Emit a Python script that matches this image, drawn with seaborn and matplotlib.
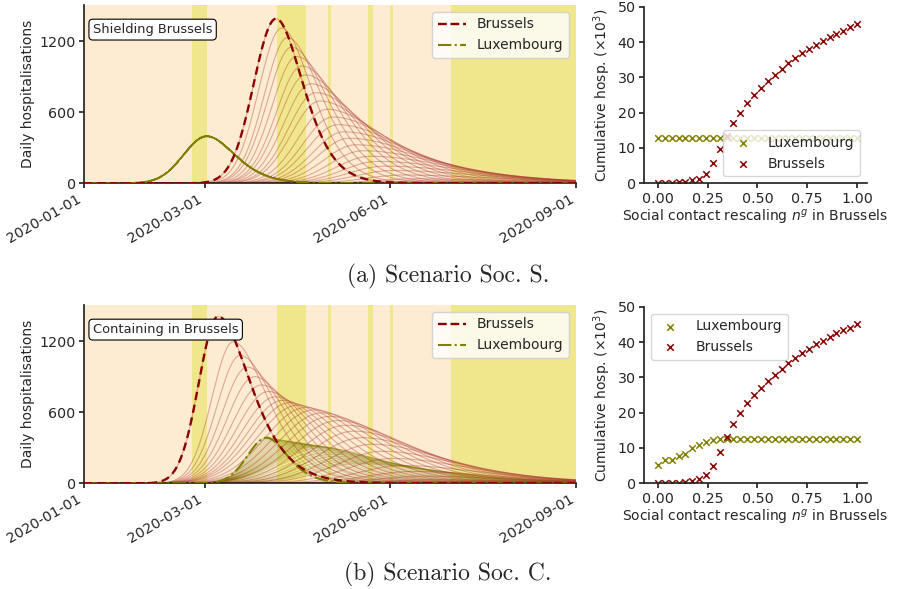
import numpy as np
import pandas as pd
import matplotlib
matplotlib.use("Agg")
import matplotlib.pyplot as plt
import matplotlib.dates as mdates
from matplotlib.lines import Line2D
import seaborn as sns

sns.set_theme(style="ticks")
plt.rcParams["font.family"] = ["DejaVu Sans"]

# ---------------- data ----------------
n_rescaling = np.linspace(0.0, 1.0, 30)

cum_bru_a = [0.0, 0.1, 0.2, 0.3, 0.4, 0.8, 1.3, 2.7, 5.7, 9.7, 13.5, 17.0, 20.0, 22.6, 25.0,
             27.0, 29.0, 30.7, 32.4, 34.0, 35.5, 36.8, 38.0, 39.2, 40.4, 41.4, 42.4, 43.2, 44.2, 45.0]
cum_lux_a = [12.8] * 30
cum_bru_b = [0.0, 0.05, 0.1, 0.2, 0.3, 0.6, 1.1, 2.3, 5.0, 8.9, 13.0, 16.9, 20.0, 22.6, 24.9,
             27.1, 29.0, 30.7, 32.5, 34.0, 35.4, 36.8, 38.1, 39.3, 40.4, 41.5, 42.5, 43.3, 44.1, 45.1]
cum_lux_b = [5.2, 6.5, 6.5, 7.6, 8.3, 9.9, 10.8, 11.6, 12.4, 12.5, 12.5, 12.5, 12.5, 12.5, 12.5,
             12.5, 12.5, 12.5, 12.5, 12.5, 12.5, 12.5, 12.5, 12.5, 12.5, 12.5, 12.5, 12.5, 12.5, 12.5]

# daily-hospitalisation curves: one entry per rescaling value (n = 1 ... 0),
# peak day (days after 2020-01-01), peak height, rise / fall spread (days)
bru_a_peak_day = [95.2, 98, 101, 103, 105.5, 108, 110, 112.5, 115, 117, 120.5, 123.5, 126, 129, 131.5,
                  135, 138.5, 142, 145.5, 149, 153, 158, 163, 168, 172, 175, 178, 180, 182, 184]
bru_a_peak_val = [1389, 1310, 1230, 1150, 1070, 990, 915, 840, 765, 695, 625, 560, 495, 435, 380,
                  325, 275, 228, 185, 145, 108, 70, 38, 20, 11, 6, 4, 3, 2, 1]
bru_a_rise = [11, 11.3, 11.6, 12, 12.3, 12.6, 13, 13.3, 13.6, 14, 14.3, 14.6, 15, 15.3, 15.6,
              16, 16.3, 16.6, 17, 17.3, 17.6, 18, 18, 18, 18, 18, 18, 18, 18, 18]
bru_a_fall = [12, 13.5, 15, 16.5, 18, 19.5, 21, 22.5, 24, 25.5, 27, 28.5, 30, 31.5, 33,
              34.5, 36, 37.5, 39, 40, 41, 42, 42, 42, 42, 42, 42, 42, 42, 42]
lux_a_peak_day = [60.9] * 30
lux_a_peak_val = [397] * 30
lux_a_rise = [11.5] * 30
lux_a_fall = [12.5] * 30

bru_b_peak_day = [66.5, 74, 77.5, 81, 84.5, 88, 91.5, 95, 98.5, 102, 106, 110, 114, 118, 122,
                  126, 130, 134, 138, 143, 148, 153, 158, 163, 168, 172, 176, 180, 184, 188]
bru_b_peak_val = [1408, 1194, 1080, 980, 900, 830, 775, 730, 700, 680, 660, 640, 620, 595, 565,
                  530, 490, 440, 385, 330, 270, 210, 150, 100, 60, 30, 15, 6, 3, 1]
bru_b_rise = [9.5, 10.5, 11.5, 12.5, 13.5, 14.5, 15.5, 16.5, 17.5, 18.5, 19.5, 20, 20.5, 21, 21.5,
              22, 22, 22, 22, 22, 22, 22, 22, 22, 22, 22, 22, 22, 22, 22]
bru_b_fall = [14, 15, 16, 17, 18, 19, 20, 21, 22, 23, 24, 25, 26, 27, 28,
              29, 30, 31, 32, 33, 34, 35, 36, 37, 38, 38, 38, 38, 38, 38]
lux_b_peak_day = [90.6, 91.9, 93.2, 94.5, 95.8, 97.1, 98.4, 99.7, 101, 102.3, 103.6, 104.9, 106.2, 107.5, 108.8,
                  110.1, 111.4, 112.7, 114, 115.3, 117, 119, 121, 123, 125, 127, 129, 131, 133, 135]
lux_b_peak_val = [385, 381, 377, 373, 369, 365, 361, 357, 353, 349, 345, 341, 337, 333, 329,
                  325, 321, 317, 313, 309, 300, 280, 262, 245, 228, 212, 198, 186, 175, 165]
lux_b_rise = [9.5, 10, 10.5, 11, 11.5, 12, 12.5, 13, 13.5, 14, 14.5, 15, 15.5, 16, 16.5,
              17, 17.5, 18, 18.5, 19, 19.5, 20, 20, 20, 20, 20, 20, 20, 20, 20]
lux_b_fall = [9, 10, 11, 12, 13, 14, 15, 16, 17, 18, 19, 20, 21, 22, 23,
              24, 25, 26, 27, 28, 29, 30, 31, 32, 33, 34, 35, 36, 37, 38]

# intervention periods (days after 2020-01-01)
yellow_spans = [(53.6, 61.0), (95.7, 110.1), (121.0, 122.4), (141.0, 143.2), (151.8, 153.2), (182.0, 244.0)]
date_ticks = ["2020-01-01", "2020-03-01", "2020-06-01", "2020-09-01"]
captions = ["(a) Scenario Soc. S.", "(b) Scenario Soc. C."]
box_texts = ["Shielding Brussels", "Containing in Brussels"]

# ---------------- helpers ----------------
BASE = pd.Timestamp("2020-01-01")
DAYS = np.arange(0, 244.5, 0.5)
DATES = BASE + pd.to_timedelta(DAYS, unit="D")
LIGHT = "#fdebd2"
KHAKI = "#f0e68c"
BRU = "#8b0000"
LUX = "#808000"


def curve(T, Hh, sr, sf, k):
    x = DAYS - T
    s = np.where(x < 0, sr, sf + k * np.clip(x, 0, None))
    return Hh * np.exp(-0.5 * (x / s) ** 2)


def fan_frame(pday, pval, rise, fall, k):
    rows = []
    for i in range(len(pday)):
        v = curve(pday[i], pval[i], rise[i], fall[i], k)
        rows.append(pd.DataFrame({"date": DATES, "value": v, "curve": i}))
    return pd.concat(rows, ignore_index=True)


W, H = 898, 589
fig = plt.figure(figsize=(W / 100, H / 100), dpi=100)


def px_axes(x0, x1, ytop, ybot):
    return fig.add_axes([x0 / W, (H - ybot) / H, (x1 - x0) / W, (ybot - ytop) / H])


panels = [
    dict(bru=(bru_a_peak_day, bru_a_peak_val, bru_a_rise, bru_a_fall, 0.1),
         lux=(lux_a_peak_day, lux_a_peak_val, lux_a_rise, lux_a_fall, 0.1),
         cb=cum_bru_a, cl=cum_lux_a, top=5, bot=183.3, rtop=6.7, leg="lower right", cap_y=276,
         lux_alpha=0.35),
    dict(bru=(bru_b_peak_day, bru_b_peak_val, bru_b_rise, bru_b_fall, 0.12),
         lux=(lux_b_peak_day, lux_b_peak_val, lux_b_rise, lux_b_fall, 0.12),
         cb=cum_bru_b, cl=cum_lux_b, top=305, bot=483.3, rtop=306.7, leg="upper left", cap_y=574,
         lux_alpha=0.28),
]

for p_i, p in enumerate(panels):
    ax = px_axes(84, 576, p["top"], p["bot"])
    ax.set_facecolor(LIGHT)
    for a, b in yellow_spans:
        ax.axvspan(BASE + pd.Timedelta(days=a), BASE + pd.Timedelta(days=b), color=KHAKI, lw=0, zorder=0)

    dfb = fan_frame(*p["bru"])
    dfl = fan_frame(*p["lux"])
    sns.lineplot(data=dfl, x="date", y="value", units="curve", estimator=None, color=LUX,
                 alpha=p["lux_alpha"], lw=0.8, ax=ax, legend=False, zorder=2)
    sns.lineplot(data=dfb, x="date", y="value", units="curve", estimator=None, color="#a52a2a",
                 alpha=0.35, lw=0.8, ax=ax, legend=False, zorder=2)
    d0 = dfb[dfb["curve"] == 0]
    l0 = dfl[dfl["curve"] == 0]
    sns.lineplot(x=d0["date"].values, y=d0["value"].values, color=BRU, ls=(0, (3.5, 2)), lw=1.7, ax=ax, zorder=4)
    sns.lineplot(x=l0["date"].values, y=l0["value"].values, color=LUX, ls="-.", lw=1.5, ax=ax, zorder=3)

    ax.set_xlim(BASE, pd.Timestamp("2020-09-01"))
    ax.set_ylim(0, 1505)
    ax.set_yticks([0, 600, 1200])
    ax.set_xticks(pd.to_datetime(date_ticks))
    ax.xaxis.set_major_formatter(mdates.DateFormatter("%Y-%m-%d"))
    for lab in ax.get_xticklabels():
        lab.set_rotation(30)
        lab.set_ha("right")
    ax.tick_params(labelsize=10.3, length=3.5, pad=2.5)
    ax.set_xlabel("")
    ax.set_ylabel("Daily hospitalisations", fontsize=10, labelpad=3)
    sns.despine(ax=ax)
    ax.text(0.018, 0.862, box_texts[p_i], transform=ax.transAxes, fontsize=9.4, va="center", ha="left",
            bbox=dict(boxstyle="round,pad=0.3", fc="white", ec="black", lw=0.8), zorder=6)
    handles = [Line2D([], [], color=BRU, ls="--", lw=1.7), Line2D([], [], color=LUX, ls="-.", lw=1.5)]
    leg = ax.legend(handles, ["Brussels", "Luxembourg"], loc="upper right", fontsize=10, framealpha=0.8)
    leg.set_zorder(7)

    # right panel
    ax2 = px_axes(644, 867, p["rtop"], p["bot"])
    sns.scatterplot(x=n_rescaling, y=p["cl"], marker="x", color=LUX, s=22, linewidth=1.1,
                    label="Luxembourg", ax=ax2)
    sns.scatterplot(x=n_rescaling, y=p["cb"], marker="x", color=BRU, s=22, linewidth=1.1,
                    label="Brussels", ax=ax2)
    ax2.set_xlim(-0.07, 1.05)
    ax2.set_ylim(0, 50)
    ax2.set_xticks([0, 0.25, 0.5, 0.75, 1.0])
    ax2.set_xticklabels(["0.00", "0.25", "0.50", "0.75", "1.00"])
    ax2.set_yticks([0, 10, 20, 30, 40, 50])
    ax2.tick_params(labelsize=10.3, length=3.5, pad=2.5)
    ax2.set_xlabel("Social contact rescaling $n^g$ in Brussels", fontsize=10, labelpad=2)
    ax2.set_ylabel("Cumulative hosp. ($\\times10^3$)", fontsize=10, labelpad=3)
    sns.despine(ax=ax2)
    ax2.legend(loc=p["leg"], fontsize=10, framealpha=0.8)

    fig.text(0.499, 1 - p["cap_y"] / H, captions[p_i], fontfamily="cmr10", fontsize=17,
             ha="center", va="center")

fig.savefig("out.png", dpi=100)
